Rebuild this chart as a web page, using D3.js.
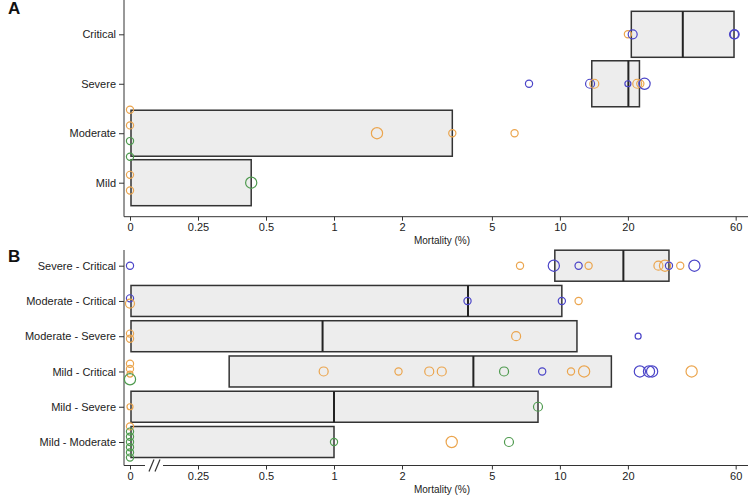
<!DOCTYPE html>
<html><head><meta charset="utf-8">
<script src="https://cdn.jsdelivr.net/npm/d3@7"></script>
<style>
body{margin:0;background:#fff;}
svg{font-family:"Liberation Sans",Arial,sans-serif;}
</style></head>
<body><svg id="c" width="750" height="500"></svg>
<script>
// ---------- data ----------
const tickValues = [0, 0.25, 0.5, 1, 2, 5, 10, 20, 60];
const tickLabels = ["0", "0.25", "0.5", "1", "2", "5", "10", "20", "60"];

const catsA = ["Critical", "Severe", "Moderate", "Mild"];
// [q1, median, q3]
const boxesA = [[20.5, 35, 59], [13.7, 20.1, 22.5], [0, 0, 3.34], [0, 0, 0.43]];
// [category, value, group, size]
const pointsA = [
  ["Critical", 20, "o", 1], ["Critical", 21, "b", 2], ["Critical", 59, "b", 2], ["Critical", 59.4, "b", 2],
  ["Severe", 7.3, "b", 1], ["Severe", 13.6, "b", 2], ["Severe", 14.2, "o", 2], ["Severe", 20, "b", 0],
  ["Severe", 22, "o", 2], ["Severe", 22.7, "o", 1], ["Severe", 23.7, "b", 3],
  ["Moderate", 0, "o", 1], ["Moderate", 0, "o", 1], ["Moderate", 0, "g", 1], ["Moderate", 0, "g", 1],
  ["Moderate", 1.55, "o", 3], ["Moderate", 3.34, "o", 1], ["Moderate", 6.3, "o", 1],
  ["Mild", 0, "o", 1], ["Mild", 0, "o", 1], ["Mild", 0.43, "g", 3]
];

const catsB = ["Severe - Critical", "Moderate - Critical", "Moderate - Severe", "Mild - Critical", "Mild - Severe", "Mild - Moderate"];
const boxesB = [[9.4, 19.1, 30.4], [0, 3.92, 10.2], [0, 0.89, 11.9], [0.34, 4.14, 16.9], [0, 1.0, 8.0], [0, 0, 1.0]];
const pointsB = [
  ["Severe - Critical", 0, "b", 1], ["Severe - Critical", 6.66, "o", 1], ["Severe - Critical", 9.4, "b", 3],
  ["Severe - Critical", 12.1, "b", 1], ["Severe - Critical", 13.4, "o", 1], ["Severe - Critical", 27.3, "o", 2],
  ["Severe - Critical", 29.2, "o", 3], ["Severe - Critical", 30.4, "b", 1], ["Severe - Critical", 34.1, "o", 1],
  ["Severe - Critical", 39.4, "b", 3],
  ["Moderate - Critical", 0, "b", 1], ["Moderate - Critical", 0, "o", 2], ["Moderate - Critical", 3.9, "b", 1],
  ["Moderate - Critical", 10.2, "b", 1], ["Moderate - Critical", 12.1, "o", 1],
  ["Moderate - Severe", 0, "o", 1], ["Moderate - Severe", 0, "o", 1], ["Moderate - Severe", 6.4, "o", 2],
  ["Moderate - Severe", 22.2, "b", 0],
  ["Mild - Critical", 0, "o", 1], ["Mild - Critical", 0, "o", 1], ["Mild - Critical", 0, "o", 0], ["Mild - Critical", 0, "g", 3],
  ["Mild - Critical", 0.9, "o", 2], ["Mild - Critical", 1.93, "o", 1], ["Mild - Critical", 2.64, "o", 2],
  ["Mild - Critical", 3.0, "o", 2], ["Mild - Critical", 5.66, "g", 2], ["Mild - Critical", 8.35, "b", 1],
  ["Mild - Critical", 11.2, "o", 1], ["Mild - Critical", 12.8, "o", 3], ["Mild - Critical", 22.6, "b", 3],
  ["Mild - Critical", 24.8, "b", 3], ["Mild - Critical", 25.6, "b", 3], ["Mild - Critical", 38.3, "o", 3],
  ["Mild - Severe", 0, "o", 0], ["Mild - Severe", 8.0, "g", 2],
  ["Mild - Moderate", 0, "o", 1], ["Mild - Moderate", 0, "g", 1], ["Mild - Moderate", 0, "g", 1],
  ["Mild - Moderate", 0, "g", 1], ["Mild - Moderate", 0, "g", 1], ["Mild - Moderate", 0, "g", 1],
  ["Mild - Moderate", 0, "g", 1], ["Mild - Moderate", 1.0, "g", 1], ["Mild - Moderate", 3.32, "o", 3],
  ["Mild - Moderate", 5.95, "g", 2]
];

// ---------- styles ----------
const colors = {o: "#EBA54E", b: "#4B45C8", g: "#4E9A4E"};
const rSize = d3.scaleOrdinal().domain([0, 1, 2, 3]).range([3, 3.6, 4.5, 5.6]);

const svg = d3.select("#c");
// x: log scale; zero is drawn one doubling left of 0.25
const xLog = d3.scaleLog().domain([0.125, 60]).range([130, 130 + 68 * Math.log2(480)]);
const x = v => xLog(v <= 0 ? 0.125 : v);

function panel(cfg) {
  const g = svg.append("g");
  const y = d3.scalePoint().domain(cfg.cats).range(cfg.yRange);
  const axX = 124;
  // y axis
  g.append("line").attr("x1", axX).attr("x2", axX).attr("y1", cfg.top).attr("y2", cfg.bottom)
    .attr("stroke", "#333").attr("stroke-width", 1);
  const yAxis = g.append("g").attr("transform", `translate(${axX},0)`)
    .call(d3.axisLeft(y).tickSize(5).tickPadding(3));
  yAxis.select(".domain").remove();
  yAxis.selectAll("line").attr("stroke", "#333");
  yAxis.selectAll("text").attr("font-size", 11).attr("fill", "#222");

  // x axis
  if (cfg.broken) {
    g.append("line").attr("x1", axX).attr("x2", 145).attr("y1", cfg.bottom).attr("y2", cfg.bottom).attr("stroke", "#333");
    g.append("line").attr("x1", 163).attr("x2", 748).attr("y1", cfg.bottom).attr("y2", cfg.bottom).attr("stroke", "#333");
    [149, 155].forEach(s => g.append("line").attr("x1", s).attr("x2", s + 5)
      .attr("y1", cfg.bottom + 6).attr("y2", cfg.bottom - 6).attr("stroke", "#333").attr("stroke-width", 1.2));
  } else {
    g.append("line").attr("x1", axX).attr("x2", 748).attr("y1", cfg.bottom).attr("y2", cfg.bottom).attr("stroke", "#333");
  }
  const xAxis = g.append("g").attr("transform", `translate(0,${cfg.bottom})`)
    .call(d3.axisBottom(xLog).tickValues(tickValues.map(v => v <= 0 ? 0.125 : v))
      .tickFormat((d, i) => tickLabels[i]).tickSize(4).tickPadding(3));
  xAxis.select(".domain").remove();
  xAxis.selectAll("line").attr("stroke", "#333");
  xAxis.selectAll("text").attr("font-size", 11).attr("fill", "#222");
  g.append("text").attr("x", 442).attr("y", cfg.bottom + 27).attr("text-anchor", "middle")
    .attr("font-size", 10).attr("fill", "#222").text("Mortality (%)");

  // boxes
  const bh = cfg.boxH;
  cfg.boxes.forEach((b, i) => {
    const cy = y(cfg.cats[i]);
    const x0 = x(b[0]) + 1, x2 = x(b[2]);
    g.append("rect").attr("x", x0).attr("y", cy - bh / 2).attr("width", x2 - x0).attr("height", bh)
      .attr("fill", "#EDEDED").attr("stroke", "#333").attr("stroke-width", 1.5);
    if (b[1] > 0) g.append("line").attr("x1", x(b[1])).attr("x2", x(b[1]))
      .attr("y1", cy - bh / 2).attr("y2", cy + bh / 2).attr("stroke", "#222").attr("stroke-width", 2);
  });

  // points (zeros stacked vertically)
  const zeroCount = {}, zeroIdx = {};
  cfg.points.forEach(p => { if (p[1] === 0) zeroCount[p[0]] = (zeroCount[p[0]] || 0) + 1; });
  cfg.points.forEach(p => {
    let cy = y(p[0]);
    if (p[1] === 0) {
      const k = zeroIdx[p[0]] = (zeroIdx[p[0]] === undefined ? 0 : zeroIdx[p[0]] + 1);
      cy += (k - (zeroCount[p[0]] - 1) / 2) * cfg.zeroGap;
    }
    g.append("circle").attr("cx", x(p[1])).attr("cy", cy).attr("r", rSize(p[3]))
      .attr("fill", "none").attr("stroke", colors[p[2]]).attr("stroke-width", 1.2);
  });

  svg.append("text").attr("x", 8).attr("y", cfg.labelY).attr("font-size", 17).attr("font-weight", "bold")
    .attr("fill", "#111").text(cfg.label);
}

panel({cats: catsA, boxes: boxesA, points: pointsA, yRange: [34.3, 182.7], top: 0, bottom: 216.7,
  boxH: 46, zeroGap: 15.7, broken: false, label: "A", labelY: 14});
panel({cats: catsB, boxes: boxesB, points: pointsB, yRange: [265.7, 442], top: 250, bottom: 465.5,
  boxH: 31, zeroGap: 5.2, broken: true, label: "B", labelY: 262});
</script></body></html>
